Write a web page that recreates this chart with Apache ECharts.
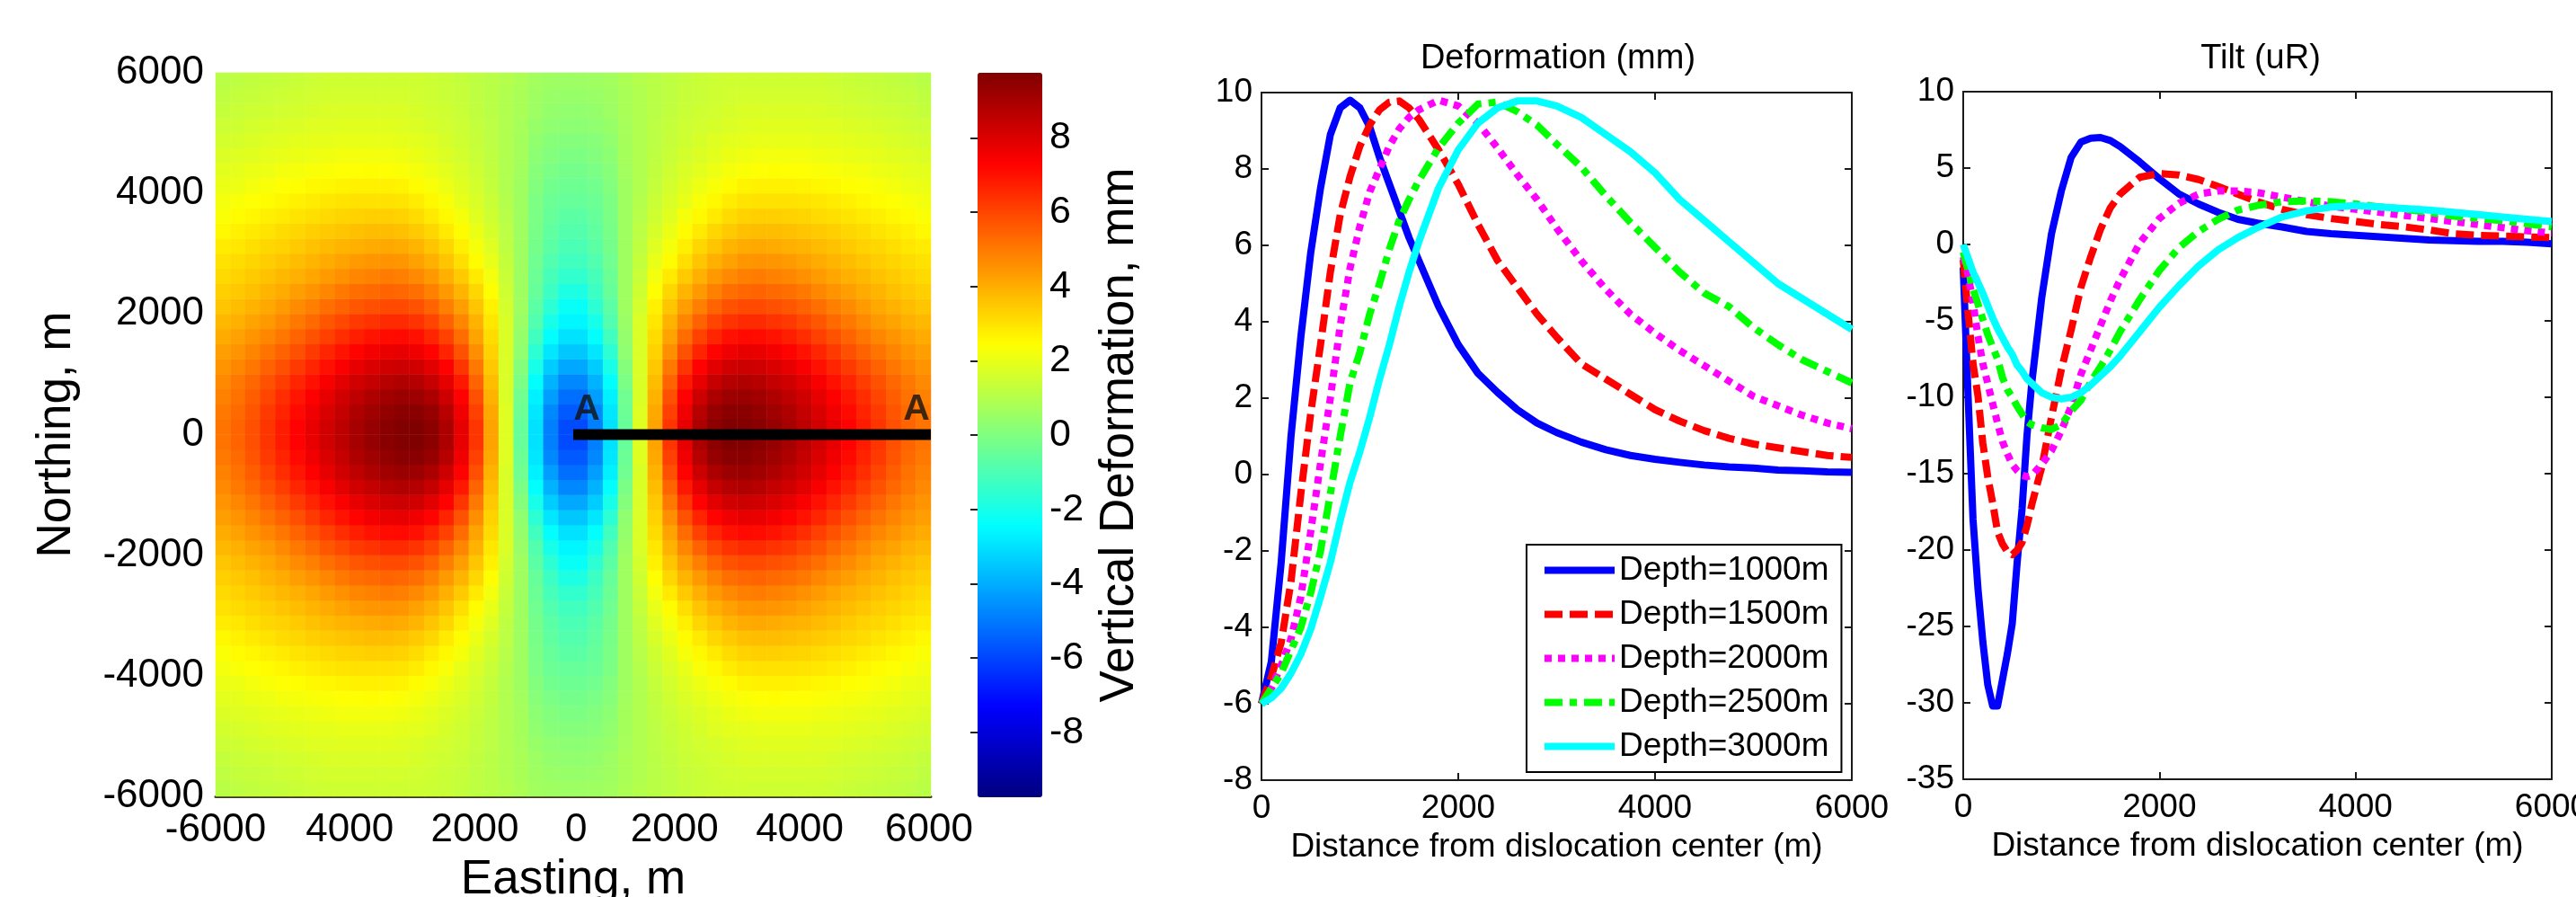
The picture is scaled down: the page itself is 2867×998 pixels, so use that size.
<!DOCTYPE html>
<html>
<head>
<meta charset="utf-8">
<title>Vertical deformation and tilt</title>
<script src="https://cdn.jsdelivr.net/npm/echarts@6/dist/echarts.min.js"></script>
<style>
  html, body { margin: 0; padding: 0; background: #fff; overflow: hidden; }
  #chart { width: 2867px; height: 998px; }
</style>
</head>
<body>
<div id="chart"></div>
<script>
// map: one quadrant (east 125..5875, north 125..5875, every 250 m), mm
var mapCellCenters = [125, 375, 625, 875, 1125, 1375, 1625, 1875, 2125, 2375, 2625, 2875, 3125, 3375, 3625, 3875, 4125, 4375, 4625, 4875, 5125, 5375, 5625, 5875];
var mapQuadrant = [
  [-5.9, -4.9, -3, -.5, 1.8, 4.2, 6.3, 7.8, 8.9, 9.5, 9.75, 9.72, 9.55, 9.3, 9, 8.6, 8.2, 7.75, 7.3, 6.8, 6.3, 5.8, 5.4, 5.1],
  [-5.6, -4.7, -2.9, -.4, 1.8, 4.1, 6.1, 7.6, 8.7, 9.3, 9.55, 9.55, 9.4, 9.15, 8.85, 8.45, 8.05, 7.6, 7.15, 6.65, 6.2, 5.7, 5.3, 5],
  [-5.2, -4.3, -2.7, -.3, 1.7, 3.9, 5.8, 7.3, 8.3, 8.9, 9.2, 9.25, 9.1, 8.85, 8.55, 8.2, 7.8, 7.35, 6.9, 6.45, 6, 5.55, 5.15, 4.85],
  [-4.7, -3.9, -2.4, -.1, 1.7, 3.7, 5.4, 6.85, 7.8, 8.4, 8.75, 8.8, 8.7, 8.45, 8.2, 7.85, 7.45, 7, 6.6, 6.15, 5.75, 5.35, 5, 4.7],
  [-4.1, -3.4, -2, .1, 1.7, 3.5, 5, 6.3, 7.3, 7.85, 8.2, 8.3, 8.2, 8, 7.75, 7.4, 7, 6.6, 6.2, 5.8, 5.45, 5.05, 4.75, 4.5],
  [-3.5, -2.9, -1.6, .3, 1.7, 3.3, 4.6, 5.75, 6.65, 7.25, 7.6, 7.75, 7.7, 7.5, 7.25, 6.95, 6.6, 6.2, 5.8, 5.45, 5.1, 4.8, 4.5, 4.3],
  [-3, -2.4, -1.2, .4, 1.7, 3.1, 4.2, 5.25, 6.05, 6.6, 7, 7.15, 7.1, 6.95, 6.75, 6.45, 6.1, 5.75, 5.4, 5.05, 4.75, 4.5, 4.25, 4.05],
  [-2.6, -2, -.9, .5, 1.7, 2.9, 3.9, 4.75, 5.45, 6, 6.35, 6.5, 6.5, 6.35, 6.2, 5.95, 5.65, 5.3, 5, 4.7, 4.4, 4.2, 3.95, 3.8],
  [-2.3, -1.6, -.7, .6, 1.6, 2.7, 3.55, 4.3, 4.9, 5.4, 5.75, 5.9, 5.9, 5.8, 5.65, 5.45, 5.2, 4.9, 4.65, 4.35, 4.1, 3.9, 3.7, 3.55],
  [-1.9, -1.3, -.5, .6, 1.5, 2.45, 3.2, 3.85, 4.4, 4.85, 5.2, 5.35, 5.4, 5.3, 5.2, 5, 4.75, 4.5, 4.3, 4.05, 3.85, 3.65, 3.5, 3.35],
  [-1.5, -1.1, -.4, .6, 1.4, 2.2, 2.85, 3.45, 3.95, 4.4, 4.7, 4.9, 4.95, 4.85, 4.75, 4.55, 4.35, 4.15, 3.95, 3.8, 3.6, 3.45, 3.3, 3.15],
  [-1.2, -.9, -.3, .6, 1.3, 2, 2.5, 3.05, 3.55, 3.95, 4.25, 4.45, 4.5, 4.45, 4.35, 4.2, 4.05, 3.85, 3.7, 3.55, 3.4, 3.25, 3.1, 3],
  [-1, -.7, -.2, .6, 1.2, 1.8, 2.25, 2.75, 3.2, 3.55, 3.85, 4.05, 4.1, 4.05, 3.95, 3.85, 3.75, 3.6, 3.45, 3.3, 3.2, 3.05, 2.9, 2.8],
  [-.85, -.6, -.15, .6, 1.15, 1.65, 2.05, 2.5, 2.85, 3.2, 3.45, 3.65, 3.7, 3.7, 3.65, 3.55, 3.45, 3.35, 3.2, 3.1, 2.95, 2.85, 2.7, 2.55],
  [-.7, -.5, -.1, .6, 1.05, 1.5, 1.85, 2.25, 2.55, 2.85, 3.1, 3.3, 3.35, 3.35, 3.3, 3.25, 3.15, 3.05, 2.95, 2.85, 2.75, 2.6, 2.5, 2.35],
  [-.5, -.4, -.05, .6, 1, 1.4, 1.7, 2, 2.3, 2.55, 2.8, 2.95, 3, 3, 3, 2.95, 2.9, 2.8, 2.7, 2.6, 2.5, 2.4, 2.3, 2.2],
  [-.35, -.25, .05, .6, .95, 1.3, 1.6, 1.85, 2.1, 2.3, 2.5, 2.65, 2.7, 2.7, 2.7, 2.65, 2.6, 2.55, 2.45, 2.4, 2.3, 2.2, 2.1, 2.05],
  [-.2, -.1, .15, .65, .95, 1.25, 1.5, 1.7, 1.9, 2.1, 2.25, 2.35, 2.4, 2.45, 2.4, 2.4, 2.35, 2.3, 2.25, 2.2, 2.1, 2.05, 1.95, 1.9],
  [-.05, .05, .25, .7, .95, 1.2, 1.4, 1.6, 1.75, 1.9, 2.05, 2.15, 2.2, 2.2, 2.2, 2.2, 2.15, 2.1, 2.05, 2, 1.95, 1.85, 1.8, 1.75],
  [.1, .15, .35, .7, .95, 1.15, 1.35, 1.5, 1.65, 1.8, 1.9, 1.95, 2, 2, 2, 2, 1.95, 1.95, 1.9, 1.85, 1.8, 1.7, 1.65, 1.6],
  [.25, .3, .45, .75, .95, 1.15, 1.3, 1.45, 1.55, 1.65, 1.75, 1.8, 1.85, 1.85, 1.85, 1.85, 1.8, 1.8, 1.75, 1.7, 1.65, 1.6, 1.5, 1.45],
  [.35, .4, .55, .8, .95, 1.1, 1.25, 1.4, 1.5, 1.55, 1.65, 1.7, 1.7, 1.7, 1.7, 1.7, 1.7, 1.65, 1.6, 1.55, 1.5, 1.45, 1.4, 1.3],
  [.45, .5, .6, .8, .95, 1.1, 1.2, 1.35, 1.4, 1.5, 1.55, 1.6, 1.6, 1.6, 1.6, 1.6, 1.6, 1.55, 1.5, 1.45, 1.4, 1.35, 1.3, 1.2],
  [.55, .6, .65, .85, 1, 1.1, 1.2, 1.3, 1.4, 1.45, 1.5, 1.5, 1.5, 1.5, 1.5, 1.5, 1.5, 1.45, 1.4, 1.35, 1.3, 1.25, 1.2, 1.1]
];
// the easting labels in the picture are hand placed and drop the minus sign
var mapXTicks = [-6000, -3750, -1650, 50, 1700, 3800, 5970];
var mapXTickLabels = ['-6000', '4000', '2000', '0', '2000', '4000', '6000'];
var sectionLine = [[0, 0], [6000, 0]];
var colorbarTicks = [-8, -6, -4, -2, 0, 2, 4, 6, 8];
var jetColors = ['#000080', '#0000ff', '#0080ff', '#00ffff', '#80ff80', '#ffff00', '#ff8000', '#ff0000', '#800000'];

var depthNames = ['Depth=1000m', 'Depth=1500m', 'Depth=2000m', 'Depth=2500m', 'Depth=3000m'];

// deformation panel, mm
var defDistance = [0, 100, 200, 300, 400, 500, 600, 700, 800, 900, 1000, 1100, 1200, 1300, 1400, 1500, 1600, 1800, 2000, 2200, 2400, 2600, 2800, 3000, 3250, 3500, 3750, 4000, 4250, 4500, 4750, 5000, 5250, 5500, 5750, 6000];
var def1000 = [-6, -4.9, -2.3, 1, 3.6, 5.8, 7.5, 8.9, 9.6, 9.8, 9.6, 9.1, 8.3, 7.6, 6.9, 6.2, 5.6, 4.4, 3.4, 2.65, 2.15, 1.7, 1.35, 1.1, .85, .65, .5, .4, .32, .25, .2, .17, .12, .1, .07, .06];
var def1500 = [-6, -5.3, -4.4, -2.8, -.5, 1.6, 3.4, 5.3, 6.8, 7.8, 8.6, 9.15, 9.55, 9.75, 9.78, 9.6, 9.3, 8.5, 7.6, 6.55, 5.6, 4.9, 4.2, 3.6, 2.9, 2.5, 2.1, 1.7, 1.4, 1.15, .95, .8, .7, .6, .5, .45];
var def2000 = [-6, -5.6, -5, -4.3, -3.2, -1.5, .3, 2, 3.9, 5.4, 6.5, 7.4, 8, 8.6, 9.05, 9.35, 9.55, 9.8, 9.65, 9.2, 8.55, 7.85, 7.2, 6.45, 5.6, 4.85, 4.2, 3.7, 3.25, 2.85, 2.45, 2.05, 1.8, 1.55, 1.35, 1.2];
var def2500 = [-6, -5.6, -5.2, -4.6, -4, -3.1, -2, -.5, 1, 2.4, 3.2, 4.2, 5, 5.9, 6.65, 7.2, 7.7, 8.55, 9.2, 9.7, 9.75, 9.5, 9.15, 8.65, 8.05, 7.3, 6.6, 5.95, 5.3, 4.75, 4.4, 3.85, 3.4, 3, 2.7, 2.4];
var def3000 = [-6, -5.85, -5.6, -5.2, -4.7, -4.05, -3.2, -2.3, -1.2, -.2, .6, 1.5, 2.5, 3.4, 4.4, 5.3, 6.1, 7.5, 8.5, 9.2, 9.6, 9.78, 9.78, 9.65, 9.35, 8.9, 8.45, 7.9, 7.2, 6.65, 6.1, 5.55, 5, 4.6, 4.2, 3.8];

// tilt panel, uR
var tiltDistance = [0, 50, 100, 150, 200, 250, 300, 350, 400, 450, 500, 550, 600, 650, 700, 800, 900, 1000, 1100, 1200, 1300, 1400, 1500, 1600, 1800, 2000, 2200, 2400, 2600, 2800, 3000, 3250, 3500, 3750, 4000, 4250, 4500, 4750, 5000, 5250, 5500, 5750, 6000];
var tilt1000 = [-1.5, -10, -18, -22.5, -26, -28.8, -30.2, -30.2, -28.5, -26.8, -24.8, -20.8, -17.3, -12.5, -9, -3.5, .7, 3.5, 5.7, 6.7, 6.95, 7, 6.8, 6.4, 5.4, 4.3, 3.3, 2.65, 2.1, 1.65, 1.4, 1.15, .85, .7, .6, .5, .4, .3, .25, .2, .2, .15, .05];
var tilt1500 = [-1, -4.5, -7.8, -9.9, -13, -15.2, -16.9, -18.8, -19.6, -20.1, -20.3, -20, -19.5, -18.4, -17, -14.6, -11.3, -8.2, -5.6, -2.8, -.8, 1, 2.4, 3.3, 4.4, 4.65, 4.55, 4.25, 3.8, 3.3, 2.8, 2.3, 1.95, 1.7, 1.5, 1.3, 1.15, .95, .7, .6, .55, .5, .45];
var tilt2000 = [-.8, -2, -3.8, -6, -7.8, -9.1, -10.4, -11.7, -12.9, -13.7, -14.4, -14.8, -15.1, -15.2, -15.1, -14.4, -13.5, -12.2, -10.6, -8.5, -6.9, -5.3, -3.7, -2.3, .1, 1.7, 2.7, 3.3, 3.5, 3.5, 3.4, 3.1, 2.8, 2.5, 2.3, 2.1, 1.9, 1.7, 1.5, 1.3, 1.1, .9, .75];
var tilt2500 = [-.5, -1.7, -2.9, -3.9, -4.9, -5.9, -6.7, -7.5, -8.7, -9.5, -10, -10.6, -11.1, -11.6, -11.8, -12, -12.1, -11.8, -10.9, -10.2, -9, -8, -6.9, -5.7, -3.6, -1.7, -.2, .85, 1.65, 2.25, 2.55, 2.8, 2.85, 2.8, 2.65, 2.45, 2.3, 2.1, 1.85, 1.7, 1.55, 1.35, 1.15];
var tilt3000 = [0, -.9, -1.8, -2.5, -3.2, -4, -4.8, -5.5, -6.1, -6.7, -7.2, -7.9, -8.3, -8.8, -9.1, -9.7, -10, -10.1, -10, -9.7, -9.2, -8.6, -8, -7.3, -5.7, -4.1, -2.7, -1.4, -.35, .45, 1.1, 1.8, 2.2, 2.45, 2.55, 2.45, 2.35, 2.25, 2.1, 1.95, 1.8, 1.65, 1.5];

var FONT = '"Liberation Sans", Arial, sans-serif';
var AXIS_COLOR = '#1a1a1a';
var plainNumber = function (v) { return String(v); };

// mirror the quadrant into the full map, south row first
var allCenters = mapCellCenters.slice().reverse().map(function (v) { return -v; }).concat(mapCellCenters);
var mapData = [];
allCenters.forEach(function (north, j) {
  allCenters.forEach(function (east, i) {
    var row = mapQuadrant[mapCellCenters.indexOf(Math.abs(north))];
    mapData.push([i, j, row[mapCellCenters.indexOf(Math.abs(east))]]);
  });
});

var depthStyles = [
  { color: '#0000ff', type: 'solid' },
  { color: '#ff0000', type: [20, 8] },
  { color: '#ff00ff', type: [8, 7] },
  { color: '#00ff00', type: [20, 8, 8, 8] },
  { color: '#00ffff', type: 'solid' }
];

function curves(distance, values, axisIndex) {
  return values.map(function (ys, k) {
    return {
      type: 'line',
      name: depthNames[k],
      xAxisIndex: axisIndex,
      yAxisIndex: axisIndex,
      showSymbol: false,
      symbol: 'none',
      silent: true,
      z: 3 + k,
      lineStyle: { color: depthStyles[k].color, type: depthStyles[k].type, width: 8, cap: 'butt', join: 'round' },
      itemStyle: { color: depthStyles[k].color },
      data: ys.map(function (y, i) { return [distance[i], y]; })
    };
  });
}

// box axes of the two line panels: bottom/left carry the labels, top/right only ticks
function boxX(gridIndex, name) {
  return [
    {
      type: 'value', gridIndex: gridIndex, min: 0, max: 6000, interval: 2000, position: 'bottom',
      name: name, nameLocation: 'middle', nameGap: 56,
      nameTextStyle: { fontFamily: FONT, fontSize: 37, color: '#000' },
      axisLine: { show: true, onZero: false, lineStyle: { color: AXIS_COLOR, width: 2 } },
      axisTick: { show: true, inside: true, length: 8, lineStyle: { color: AXIS_COLOR, width: 2 } },
      axisLabel: { show: true, margin: 13, fontFamily: FONT, fontSize: 37, color: '#000', formatter: plainNumber, hideOverlap: false },
      splitLine: { show: false }
    },
    {
      type: 'value', gridIndex: gridIndex, min: 0, max: 6000, interval: 2000, position: 'top',
      axisLine: { show: true, onZero: false, lineStyle: { color: AXIS_COLOR, width: 2 } },
      axisTick: { show: true, inside: true, length: 8, lineStyle: { color: AXIS_COLOR, width: 2 } },
      axisLabel: { show: false },
      splitLine: { show: false }
    }
  ];
}

function boxY(gridIndex, min, max, interval) {
  return [
    {
      type: 'value', gridIndex: gridIndex, min: min, max: max, interval: interval, position: 'left',
      axisLine: { show: true, onZero: false, lineStyle: { color: AXIS_COLOR, width: 2 } },
      axisTick: { show: true, inside: true, length: 8, lineStyle: { color: AXIS_COLOR, width: 2 } },
      axisLabel: { show: true, margin: 10, fontFamily: FONT, fontSize: 37, color: '#000', formatter: plainNumber },
      splitLine: { show: false }
    },
    {
      type: 'value', gridIndex: gridIndex, min: min, max: max, interval: interval, position: 'right',
      axisLine: { show: true, onZero: false, lineStyle: { color: AXIS_COLOR, width: 2 } },
      axisTick: { show: true, inside: true, length: 8, lineStyle: { color: AXIS_COLOR, width: 2 } },
      axisLabel: { show: false },
      splitLine: { show: false }
    }
  ];
}

var hiddenAxisParts = { axisLine: { show: false }, axisTick: { show: false }, axisLabel: { show: false }, splitLine: { show: false } };

var xAxes = [
  Object.assign({ type: 'category', gridIndex: 0, data: allCenters, boundaryGap: true }, hiddenAxisParts),
  {
    type: 'value', gridIndex: 1, min: -6000, max: 6000, position: 'bottom',
    name: 'Easting, m', nameLocation: 'middle', nameGap: 67,
    nameTextStyle: { fontFamily: FONT, fontSize: 53, color: '#000' },
    axisLine: { show: true, onZero: false, lineStyle: { color: '#3a3a1a', width: 3 } },
    axisTick: { show: false },
    axisLabel: {
      show: true, margin: 16, fontFamily: FONT, fontSize: 44, color: '#000', customValues: mapXTicks,
      formatter: function (v) { return mapXTickLabels[mapXTicks.indexOf(v)]; }
    },
    splitLine: { show: false }
  },
  Object.assign({ type: 'value', gridIndex: 2, min: 0, max: 1 }, hiddenAxisParts)
].concat(boxX(3, 'Distance from dislocation center (m)'), boxX(4, 'Distance from dislocation center (m)'));

var yAxes = [
  Object.assign({ type: 'category', gridIndex: 0, data: allCenters, boundaryGap: true }, hiddenAxisParts),
  {
    type: 'value', gridIndex: 1, min: -6000, max: 6000, interval: 2000,
    name: 'Northing, m', nameLocation: 'middle', nameGap: 150,
    nameTextStyle: { fontFamily: FONT, fontSize: 53, color: '#000' },
    axisLine: { show: false },
    axisTick: { show: false },
    axisLabel: { show: true, margin: 13, fontFamily: FONT, fontSize: 44, color: '#000', formatter: plainNumber },
    splitLine: { show: false }
  },
  {
    type: 'value', gridIndex: 2, min: -9.75, max: 9.75, position: 'right',
    name: 'Vertical Deformation, mm', nameLocation: 'middle', nameGap: 60, nameRotate: 90,
    nameTextStyle: { fontFamily: FONT, fontSize: 53, color: '#000' },
    axisLine: { show: false },
    axisTick: { show: true, inside: true, length: 8, customValues: colorbarTicks, lineStyle: { color: '#222', width: 2 } },
    axisLabel: { show: true, margin: 8, fontFamily: FONT, fontSize: 43, color: '#000', customValues: colorbarTicks },
    splitLine: { show: false }
  }
].concat(boxY(3, -8, 10, 2), boxY(4, -35, 10, 5));

var seriesList = [
  {
    type: 'heatmap', xAxisIndex: 0, yAxisIndex: 0, silent: true, progressive: 0,
    itemStyle: { borderWidth: 0 },
    data: mapData
  },
  {
    type: 'line', xAxisIndex: 1, yAxisIndex: 1, symbol: 'none', silent: true, clip: false, z: 5,
    lineStyle: { color: '#000', width: 12, cap: 'butt' },
    data: sectionLine
  },
  {
    type: 'scatter', xAxisIndex: 1, yAxisIndex: 1, symbolSize: 1, silent: true, z: 6,
    itemStyle: { color: 'rgba(0,0,0,0)' },
    label: { show: true, formatter: 'A', position: 'top', distance: 7, fontFamily: FONT, fontSize: 41, fontWeight: 'bold', color: '#111' },
    data: [
      { value: sectionLine[0], label: { offset: [15, 0] } },
      { value: sectionLine[1], label: { offset: [-16, 0] } }
    ]
  }
].concat(
  curves(defDistance, [def1000, def1500, def2000, def2500, def3000], 3),
  curves(tiltDistance, [tilt1000, tilt1500, tilt2000, tilt2500, tilt3000], 5)
);

// line panels use axis pairs 3/4 and 5/6
var myChart = echarts.init(document.getElementById('chart'), null, { renderer: 'canvas' });
myChart.setOption({
  animation: false,
  backgroundColor: '#fff',
  textStyle: { fontFamily: FONT },
  title: [
    { text: 'Deformation (mm)', left: 1729, top: 42, textAlign: 'center', textStyle: { fontFamily: FONT, fontSize: 38, fontWeight: 'normal', color: '#000' } },
    { text: 'Tilt (uR)', left: 2511, top: 42, textAlign: 'center', textStyle: { fontFamily: FONT, fontSize: 38, fontWeight: 'normal', color: '#000' } }
  ],
  grid: [
    { left: 240, top: 81, width: 796, height: 805, outerBoundsMode: 'none' },
    { left: 240, top: 81, width: 796, height: 805, outerBoundsMode: 'none' },
    { left: 1088, top: 81, width: 72, height: 806, outerBoundsMode: 'none' },
    { left: 1404, top: 103, width: 657, height: 765, outerBoundsMode: 'none' },
    { left: 2185, top: 102, width: 655, height: 765, outerBoundsMode: 'none' }
  ],
  xAxis: xAxes,
  yAxis: yAxes,
  visualMap: {
    type: 'continuous', seriesIndex: 0, min: -9.75, max: 9.75,
    left: 1088, top: 81, itemWidth: 72, itemHeight: 806, padding: 0,
    calculable: false, hoverLink: false, text: null, showLabel: false,
    inRange: { color: jetColors },
    textStyle: { color: 'transparent', fontSize: 1 }
  },
  legend: {
    orient: 'vertical', left: 1699, top: 606, padding: [10, 14, 10, 16],
    itemWidth: 78, itemHeight: 36, itemGap: 12, selectedMode: false,
    backgroundColor: '#fff', borderColor: '#000', borderWidth: 2,
    lineStyle: { width: 8 },
    itemStyle: { opacity: 0 },
    textStyle: { fontFamily: FONT, fontSize: 37, color: '#000' },
    data: depthNames
  },
  series: seriesList
});
</script>
</body>
</html>
